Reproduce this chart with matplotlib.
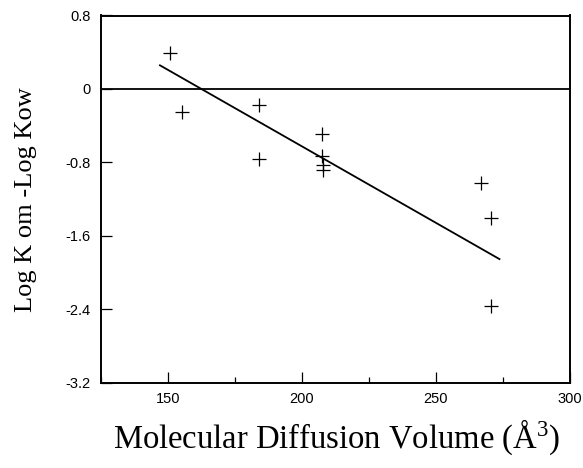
import matplotlib
matplotlib.use("Agg")
import matplotlib.pyplot as plt
from matplotlib.ticker import MultipleLocator

plt.rcParams["mathtext.fontset"] = "custom"
plt.rcParams["mathtext.rm"] = "Liberation Serif"
plt.rcParams["mathtext.it"] = "Liberation Serif:italic"
plt.rcParams["mathtext.bf"] = "Liberation Serif:bold"

# Data
diff_volume = [150.9, 155.4, 184.2, 184.2, 207.7, 207.7, 207.9, 207.8, 266.8, 270.7, 270.7]
log_diff = [0.39, -0.25, -0.18, -0.76, -0.49, -0.73, -0.83, -0.88, -1.03, -1.41, -2.37]
fit_x = [147.1, 273.7]
fit_y = [0.257, -1.855]
x_ticks = [150, 200, 250, 300]
y_ticks = [0.8, 0, -0.8, -1.6, -2.4, -3.2]
y_tick_labels = ["0.8", "0", "-0.8", "-1.6", "-2.4", "-3.2"]

W, H = 583, 468
fig = plt.figure(figsize=(W / 100, H / 100), dpi=100)
ax = fig.add_axes([100.7 / W, 1 - 382.5 / H, (570 - 100.7) / W, (382.5 - 15.5) / H])

ax.plot(diff_volume, log_diff, linestyle="none", marker="+", color="black",
        markersize=10, markeredgewidth=0.9)
ax.plot(fit_x, fit_y, color="black", linewidth=1.3)
ax.axhline(0, color="black", linewidth=1.3)

ax.set_xlim(125, 300)
ax.set_ylim(-3.2, 0.8)
ax.set_xticks(x_ticks)
ax.xaxis.set_minor_locator(MultipleLocator(25))
ax.set_yticks(y_ticks)
ax.set_yticklabels(y_tick_labels)

for s in ax.spines.values():
    s.set_linewidth(1.4)

ax.tick_params(axis="both", which="major", direction="in", length=8, width=0.9,
               labelsize=10.5, pad=7)
ax.tick_params(axis="both", which="minor", direction="in", length=4, width=0.9)
for lab in ax.get_xticklabels() + ax.get_yticklabels():
    lab.set_fontfamily("Liberation Sans")

fig.text(337 / W, 1 - 448 / H, "Molecular Diffusion Volume (Å$^{3}$)",
         fontfamily="Liberation Serif", fontsize=23.5, ha="center", va="baseline")
fig.text(26 / W, 1 - 200 / H, "Log K om -Log Kow", fontfamily="Liberation Serif",
         fontsize=19, rotation=90, ha="center", va="center")

fig.savefig("out.png", dpi=100)
